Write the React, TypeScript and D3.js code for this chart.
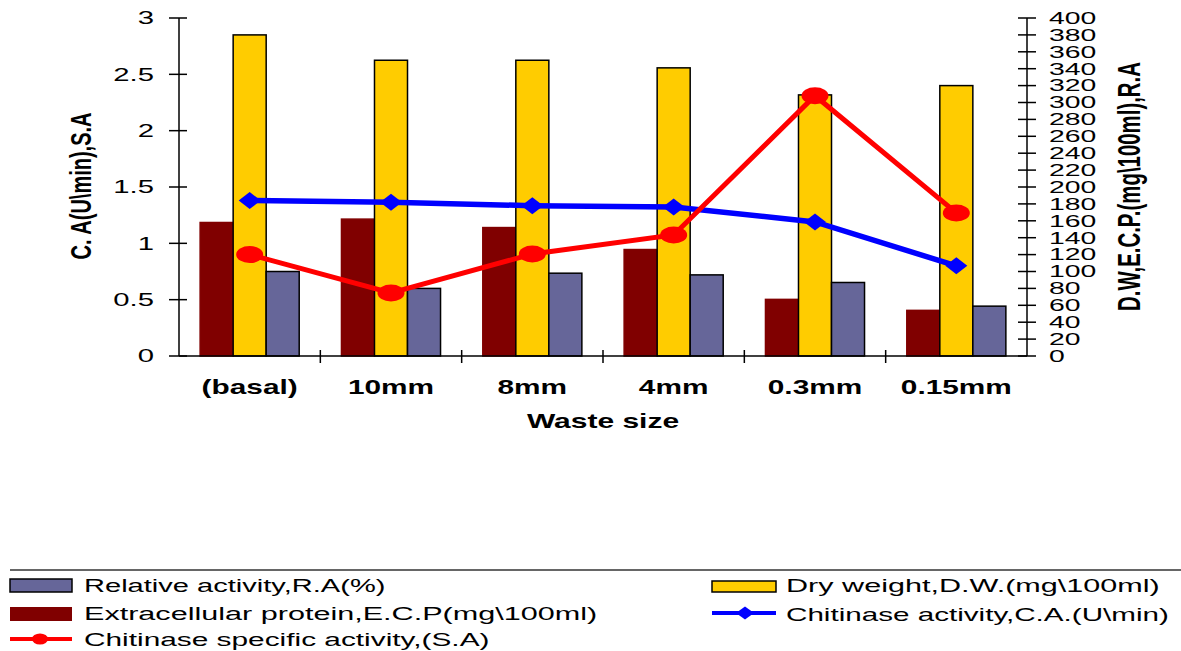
import React from "react";
import * as d3 from "d3";

const categories = ["(basal)", "10mm", "8mm", "4mm", "0.3mm", "0.15mm"];
const ecpValues = [158, 162, 152, 126, 67, 54];
const dwValues = [380, 350, 350, 341, 309, 320];
const raValues = [100, 80, 98, 96, 87, 59];
const caValues = [1.38, 1.364, 1.334, 1.322, 1.19, 0.8];
const saValues = [0.9, 0.56, 0.905, 1.074, 2.31, 1.27];
const leftTicks = [0, 0.5, 1, 1.5, 2, 2.5, 3];
const rightTicks = d3.range(0, 401, 20);

const FONT = "'Liberation Sans', Arial, sans-serif";

const W = 1181;
const H = 651;
const X0 = 179;
const X1 = 1027;
const Y0 = 356;
const Y1 = 18;

function T(props: {
  x: number;
  y: number;
  text: string;
  size: number;
  sx?: number;
  anchor?: string;
  bold?: boolean;
  rotate?: boolean;
  baseline?: string;
}) {
  const { x, y, text, size, sx = 1.55, anchor = "start", bold, rotate, baseline } = props;
  const tf = `translate(${x},${y}) scale(${sx},1)` + (rotate ? " rotate(-90)" : "");
  return (
    <text
      transform={tf}
      textAnchor={anchor}
      dominantBaseline={baseline}
      fontFamily={FONT}
      fontSize={size}
      fontWeight={bold ? "bold" : "normal"}
      fill="#000"
    >
      {text}
    </text>
  );
}

export default function App() {
  const x = d3.scaleBand<string>().domain(categories).range([X0, X1]).padding(0);
  const sub = d3
    .scaleBand<string>()
    .domain(["ecp", "dw", "ra"])
    .range([0, x.bandwidth()])
    .paddingInner(0)
    .paddingOuter(0.64);
  const yL = d3.scaleLinear().domain([0, 3]).range([Y0, Y1]);
  const yR = d3.scaleLinear().domain([0, 400]).range([Y0, Y1]);
  const cx = (c: string) => (x(c) as number) + x.bandwidth() / 2;

  const line = d3
    .line<[number, number]>()
    .x((d) => d[0])
    .y((d) => d[1]);

  const caPts: [number, number][] = categories.map((c, i) => [cx(c), yL(caValues[i])]);
  const saPts: [number, number][] = categories.map((c, i) => [cx(c), yL(saValues[i])]);

  const barSeries = [
    { key: "ecp", values: ecpValues, fill: "#800000", stroke: "#800000" },
    { key: "dw", values: dwValues, fill: "#FFCC00", stroke: "#000" },
    { key: "ra", values: raValues, fill: "#666699", stroke: "#000" },
  ];

  const diamond = (px: number, py: number, rx: number, ry: number) =>
    `M${px},${py - ry}L${px + rx},${py}L${px},${py + ry}L${px - rx},${py}Z`;

  return (
    <svg
      width={W}
      height={H}
      style={{ position: "absolute", left: 0, top: 0, background: "#fff" }}
    >
      <rect x={0} y={0} width={W} height={H} fill="#fff" />
      {/* bars */}
      {barSeries.map((s) =>
        categories.map((c, i) => {
          const bx = (x(c) as number) + (sub(s.key) as number);
          const by = yR(s.values[i]);
          return (
            <rect
              key={s.key + c}
              x={bx}
              y={by}
              width={sub.bandwidth()}
              height={Y0 - by}
              fill={s.fill}
              stroke={s.stroke}
              strokeWidth={1.5}
            />
          );
        })
      )}
      {/* axes */}
      <line x1={X0} y1={Y1} x2={X0} y2={Y0} stroke="#000" strokeWidth={1.5} />
      <line x1={X1} y1={Y1} x2={X1} y2={Y0} stroke="#000" strokeWidth={1.5} />
      <line x1={X0} y1={Y0} x2={X1} y2={Y0} stroke="#000" strokeWidth={1.5} />
      {leftTicks.map((t) => (
        <g key={"lt" + t}>
          <line x1={X0 - 10} x2={X0 + 8} y1={yL(t)} y2={yL(t)} stroke="#000" strokeWidth={1.5} />
          <T x={154} y={yL(t)} text={String(t)} size={18.5} sx={1.58} anchor="end" baseline="central" />
        </g>
      ))}
      {rightTicks.map((t) => (
        <g key={"rt" + t}>
          <line x1={X1 - 9} x2={X1 + 9} y1={yR(t)} y2={yR(t)} stroke="#000" strokeWidth={1.5} />
          <T x={1049} y={yR(t)} text={String(t)} size={17} sx={1.67} anchor="start" baseline="central" />
        </g>
      ))}
      {categories.slice(1).map((c) => (
        <line
          key={"ct" + c}
          x1={x(c) as number}
          x2={x(c) as number}
          y1={Y0 - 6}
          y2={Y0 + 7}
          stroke="#000"
          strokeWidth={1.5}
        />
      ))}
      {categories.map((c) => (
        <T key={"cl" + c} x={cx(c)} y={394} text={c} size={19.5} sx={1.53} anchor="middle" bold />
      ))}
      <T x={(X0 + X1) / 2} y={428} text="Waste size" size={20} sx={1.5} anchor="middle" bold />
      <T x={91} y={186} text="C. A(U\min),S.A" size={20} sx={1.5} anchor="middle" bold rotate />
      <T x={1140} y={186.5} text="D.W,E.C.P.(mg\100ml),R.A" size={20.4} sx={1.5} anchor="middle" bold rotate />
      {/* lines */}
      <path d={line(caPts) || ""} fill="none" stroke="#0000FF" strokeWidth={5.5} />
      {caPts.map((p, i) => (
        <path key={"cad" + i} d={diamond(p[0], p[1], 11, 8.5)} fill="#0000FF" />
      ))}
      <path d={line(saPts) || ""} fill="none" stroke="#FF0000" strokeWidth={5} />
      {saPts.map((p, i) => (
        <ellipse key={"sae" + i} cx={p[0]} cy={p[1]} rx={13.5} ry={8.5} fill="#FF0000" />
      ))}
      {/* legend */}
      <line x1={10} x2={W} y1={570} y2={570} stroke="#333" strokeWidth={1.5} />
      <rect x={10} y={579} width={62} height={13} fill="#666699" stroke="#000" strokeWidth={1.5} />
      <T x={84} y={592} text="Relative activity,R.A(%)" size={19} sx={1.53} />
      <rect x={10} y={607} width={62} height={14} fill="#800000" />
      <T x={84} y={620} text="Extracellular protein,E.C.P(mg\100ml)" size={19} sx={1.61} />
      <line x1={10} x2={72} y1={639} y2={639} stroke="#FF0000" strokeWidth={4} />
      <ellipse cx={40} cy={639} rx={8} ry={5.5} fill="#FF0000" />
      <T x={84} y={646} text="Chitinase specific activity,(S.A)" size={19} sx={1.57} />
      <rect x={712} y={581} width={64} height={11} fill="#FFCC00" stroke="#000" strokeWidth={1.5} />
      <T x={786} y={592} text="Dry weight,D.W.(mg\100ml)" size={19} sx={1.61} />
      <line x1={712} x2={776} y1={613} y2={613} stroke="#0000FF" strokeWidth={4} />
      <path d={diamond(745, 613, 9, 6.5)} fill="#0000FF" />
      <T x={786} y={621} text="Chitinase activity,C.A.(U\min)" size={19} sx={1.56} />
    </svg>
  );
}
